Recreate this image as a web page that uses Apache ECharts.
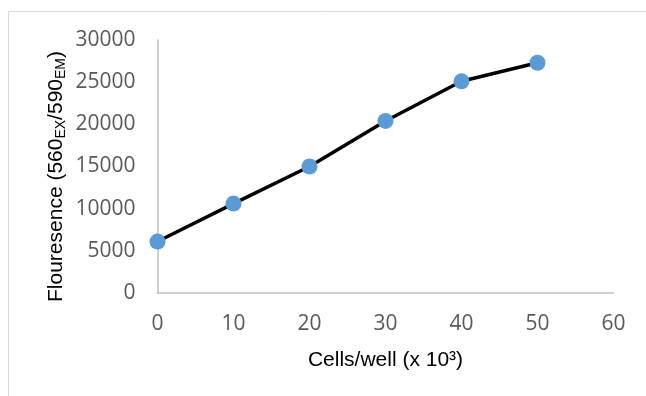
<!DOCTYPE html>
<html>
<head>
<meta charset="utf-8">
<script src="https://cdn.jsdelivr.net/npm/echarts@6/dist/echarts.min.js"></script>
<style>
  html, body { margin: 0; padding: 0; background: #fff; }
  #chart { width: 646px; height: 396px; }
</style>
</head>
<body>
<div id="chart"></div>
<script>
// Cell count (thousands of cells per well) vs. measured fluorescence
const cellsPerWell = [0, 10, 20, 30, 40, 50];
const fluorescence = [6100, 10600, 15000, 20400, 25100, 27300];

const xTicks = { min: 0, max: 60, interval: 10 };
const yTicks = { min: 0, max: 30000, interval: 5000 };

const chart = echarts.init(document.getElementById('chart'), null, { renderer: 'canvas' });

const tickFont = { color: '#595959', fontSize: 21, fontFamily: 'Open Sans' };
const axisLine = { show: true, lineStyle: { color: '#bfbfbf', width: 1.5 } };

chart.setOption({
  animation: false,
  backgroundColor: '#fff',
  graphic: [{
    type: 'rect',
    shape: { x: 8.5, y: 11.5, width: 700, height: 420 },
    style: { fill: 'none', stroke: '#d9d9d9', lineWidth: 1 },
    silent: true
  }],
  grid: { left: 157.5, right: 32.5, top: 40, bottom: 103, containLabel: false },
  xAxis: {
    type: 'value',
    min: xTicks.min, max: xTicks.max, interval: xTicks.interval,
    axisLine: axisLine,
    axisTick: { show: false },
    splitLine: { show: false },
    axisLabel: Object.assign({ margin: 21 }, tickFont),
    name: 'Cells/well (x 10³)',
    nameLocation: 'middle',
    nameGap: 57,
    nameMoveOverlap: false,
    nameTextStyle: { color: '#000', fontSize: 21, fontFamily: 'Liberation Sans' }
  },
  yAxis: {
    type: 'value',
    min: yTicks.min, max: yTicks.max, interval: yTicks.interval,
    axisLine: axisLine,
    axisTick: { show: false },
    splitLine: { show: false },
    axisLabel: Object.assign({ margin: 22, formatter: v => String(v) }, tickFont),
    name: '{t|Flouresence (560}{s|EX}{t|/590}{s|EM}{t|)}',
    nameLocation: 'middle',
    nameRotate: 90,
    nameGap: 87,
    nameMoveOverlap: false,
    nameTextStyle: {
      padding: [0, 20, 0, 0],
      rich: {
        t: { color: '#000', fontSize: 21, fontFamily: 'Liberation Sans', lineHeight: 28, verticalAlign: 'middle' },
        s: { color: '#000', fontSize: 14, fontFamily: 'Liberation Sans', lineHeight: 28, verticalAlign: 'bottom', padding: [0, 0, 2, 0] }
      }
    }
  },
  series: [{
    type: 'line',
    data: cellsPerWell.map((x, i) => [x, fluorescence[i]]),
    lineStyle: { color: '#000', width: 3.5 },
    symbol: 'circle',
    symbolSize: 16,
    itemStyle: { color: '#5b9bd5' },
    z: 3
  }]
});
</script>
</body>
</html>
